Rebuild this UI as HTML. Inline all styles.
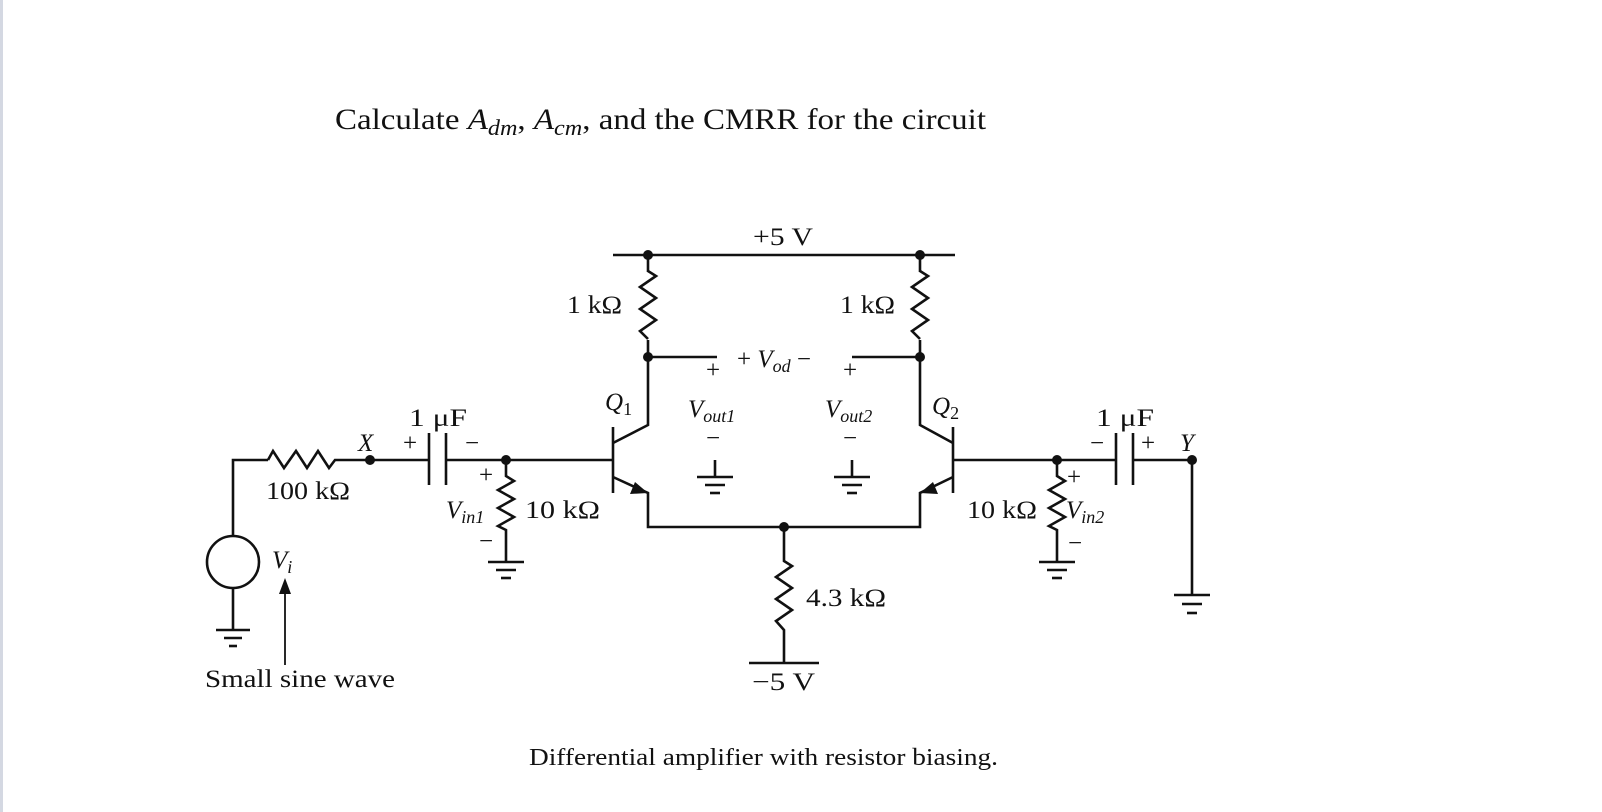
<!DOCTYPE html>
<html><head><meta charset="utf-8"><style>
html,body{margin:0;padding:0;background:#fff;}
svg{display:block;}
text{font-family:"Liberation Serif",serif;fill:#111;}
.i{font-style:italic;}
</style></head><body>
<svg width="1602" height="812" viewBox="0 0 1602 812" xmlns="http://www.w3.org/2000/svg">
<rect x="0" y="0" width="3" height="812" fill="#d4d8e2"/>
<text x="335" y="129" font-size="30" textLength="651" lengthAdjust="spacingAndGlyphs">Calculate <tspan class="i">A</tspan><tspan class="i" font-size="22" dy="6">dm</tspan><tspan dy="-6">, </tspan><tspan class="i">A</tspan><tspan class="i" font-size="22" dy="6">cm</tspan><tspan dy="-6">, and the CMRR for the circuit</tspan></text>

<g stroke="#111" stroke-width="2.6" fill="none" stroke-linejoin="miter">
<circle cx="233" cy="562" r="26"/>
<polyline points="233,536 233,460 268,460"/>
<polyline points="268,460 273,451 284,468 296,451 307,468 318,451 329,468 335,460 429,460"/>
<line x1="233" y1="588" x2="233" y2="630"/>
<line x1="216" y1="630" x2="250" y2="630"/>
<line x1="224" y1="638" x2="242" y2="638"/>
<line x1="229" y1="646" x2="237" y2="646"/>
<line x1="285" y1="665" x2="285" y2="592" stroke-width="1.8"/>
<line x1="429" y1="433" x2="429" y2="485"/>
<line x1="446" y1="433" x2="446" y2="485"/>
<line x1="446" y1="460" x2="613" y2="460"/>
<polyline points="506,460 506,476 514,481 498,490 514,499 498,508 514,517 498,526 506,530 506,562"/>
<line x1="488" y1="562" x2="524" y2="562"/>
<line x1="496" y1="570" x2="516" y2="570"/>
<line x1="501" y1="578" x2="511" y2="578"/>
<line x1="613" y1="427" x2="613" y2="493"/>
<polyline points="613,443 648,425 648,255"/>
<polyline points="613,477 648,493 648,527 920,527 920,493 953,477"/>
<line x1="953" y1="427" x2="953" y2="493"/>
<polyline points="953,443 920,425 920,255"/>
<line x1="613" y1="255" x2="955" y2="255"/>
</g>
<g stroke="#fff" stroke-width="4"><line x1="648" y1="272" x2="648" y2="340"/><line x1="920" y1="272" x2="920" y2="340"/><line x1="784" y1="560" x2="784" y2="632"/></g>
<g stroke="#111" stroke-width="2.6" fill="none">
<polyline points="648,271 656,276 640,287 656,298 640,309 656,320 640,331 648,339"/>
<polyline points="920,271 928,276 912,287 928,298 912,309 928,320 912,331 920,339"/>
<line x1="648" y1="357" x2="717" y2="357"/>
<line x1="852" y1="357" x2="920" y2="357"/>
<line x1="715" y1="460" x2="715" y2="477"/>
<line x1="697" y1="477" x2="733" y2="477"/>
<line x1="705" y1="485" x2="725" y2="485"/>
<line x1="710" y1="493" x2="720" y2="493"/>
<line x1="852" y1="460" x2="852" y2="477"/>
<line x1="834" y1="477" x2="870" y2="477"/>
<line x1="842" y1="485" x2="862" y2="485"/>
<line x1="847" y1="493" x2="857" y2="493"/>
<polyline points="784,527 784,561 792,566 776,577 792,588 776,599 792,610 776,621 784,630 784,663"/>
<line x1="749" y1="663" x2="819" y2="663"/>
<line x1="953" y1="460" x2="1116" y2="460"/>
<line x1="1116" y1="433" x2="1116" y2="485"/>
<line x1="1133" y1="433" x2="1133" y2="485"/>
<line x1="1133" y1="460" x2="1192" y2="460"/>
<line x1="1192" y1="460" x2="1192" y2="595"/>
<line x1="1174" y1="595" x2="1210" y2="595"/>
<line x1="1182" y1="604" x2="1202" y2="604"/>
<line x1="1187" y1="613" x2="1197" y2="613"/>
<polyline points="1057,460 1057,476 1065,481 1049,490 1065,499 1049,508 1065,517 1049,526 1057,530 1057,562"/>
<line x1="1039" y1="562" x2="1075" y2="562"/>
<line x1="1047" y1="570" x2="1067" y2="570"/>
<line x1="1052" y1="578" x2="1062" y2="578"/>
</g>
<g fill="#111">
<polygon points="285,578 279,594 291,594"/>
<polygon points="648,493 630,494 635,482"/>
<polygon points="920,493 933,482 938,494"/>
<circle cx="370" cy="460" r="5"/>
<circle cx="506" cy="460" r="5"/>
<circle cx="648" cy="255" r="5"/>
<circle cx="920" cy="255" r="5"/>
<circle cx="648" cy="357" r="5"/>
<circle cx="920" cy="357" r="5"/>
<circle cx="784" cy="527" r="5"/>
<circle cx="1057" cy="460" r="5"/>
<circle cx="1192" cy="460" r="5"/>
</g>
<g font-size="25">
<text x="266" y="499" textLength="84" lengthAdjust="spacingAndGlyphs">100 kΩ</text>
<text x="358" y="451" class="i">X</text>
<text x="403" y="451">+</text>
<text x="465" y="451">−</text>
<text x="409" y="426" textLength="58" lengthAdjust="spacingAndGlyphs">1 μF</text>
<text x="479" y="483">+</text>
<text x="479" y="549">−</text>
<text x="446" y="518" class="i">V<tspan font-size="18" dy="5">in1</tspan></text>
<text x="525" y="518" textLength="75" lengthAdjust="spacingAndGlyphs">10  kΩ</text>
<text x="272" y="568" class="i">V<tspan font-size="18" dy="5">i</tspan></text>
<text x="205" y="687" textLength="190" lengthAdjust="spacingAndGlyphs">Small sine wave</text>
<text x="605" y="410" class="i">Q<tspan font-size="18" dy="5" font-style="normal">1</tspan></text>
<text x="567" y="313" textLength="55" lengthAdjust="spacingAndGlyphs">1 kΩ</text>
<text x="840" y="313" textLength="55" lengthAdjust="spacingAndGlyphs">1 kΩ</text>
<text x="753" y="245" textLength="60" lengthAdjust="spacingAndGlyphs">+5 V</text>
<text x="737" y="367">+ <tspan class="i">V</tspan><tspan class="i" font-size="18" dy="5">od</tspan><tspan dy="-5"> −</tspan></text>
<text x="706" y="378">+</text>
<text x="843" y="378">+</text>
<text x="688" y="417" class="i">V<tspan font-size="18" dy="5">out1</tspan></text>
<text x="825" y="417" class="i">V<tspan font-size="18" dy="5">out2</tspan></text>
<text x="706" y="446">−</text>
<text x="843" y="446">−</text>
<text x="932" y="414" class="i">Q<tspan font-size="18" dy="5" font-style="normal">2</tspan></text>
<text x="806" y="606" textLength="80" lengthAdjust="spacingAndGlyphs">4.3 kΩ</text>
<text x="752" y="690" textLength="63" lengthAdjust="spacingAndGlyphs">−5 V</text>
<text x="967" y="518" textLength="70" lengthAdjust="spacingAndGlyphs">10 kΩ</text>
<text x="1067" y="485">+</text>
<text x="1066" y="518" class="i">V<tspan font-size="18" dy="5">in2</tspan></text>
<text x="1068" y="551">−</text>
<text x="1096" y="426" textLength="58" lengthAdjust="spacingAndGlyphs">1 μF</text>
<text x="1090" y="451">−</text>
<text x="1141" y="451">+</text>
<text x="1180" y="451" class="i">Y</text>
</g>
<text x="529" y="765" font-size="24" textLength="469" lengthAdjust="spacingAndGlyphs">Differential amplifier with resistor biasing.</text>
</svg>
</body></html>
